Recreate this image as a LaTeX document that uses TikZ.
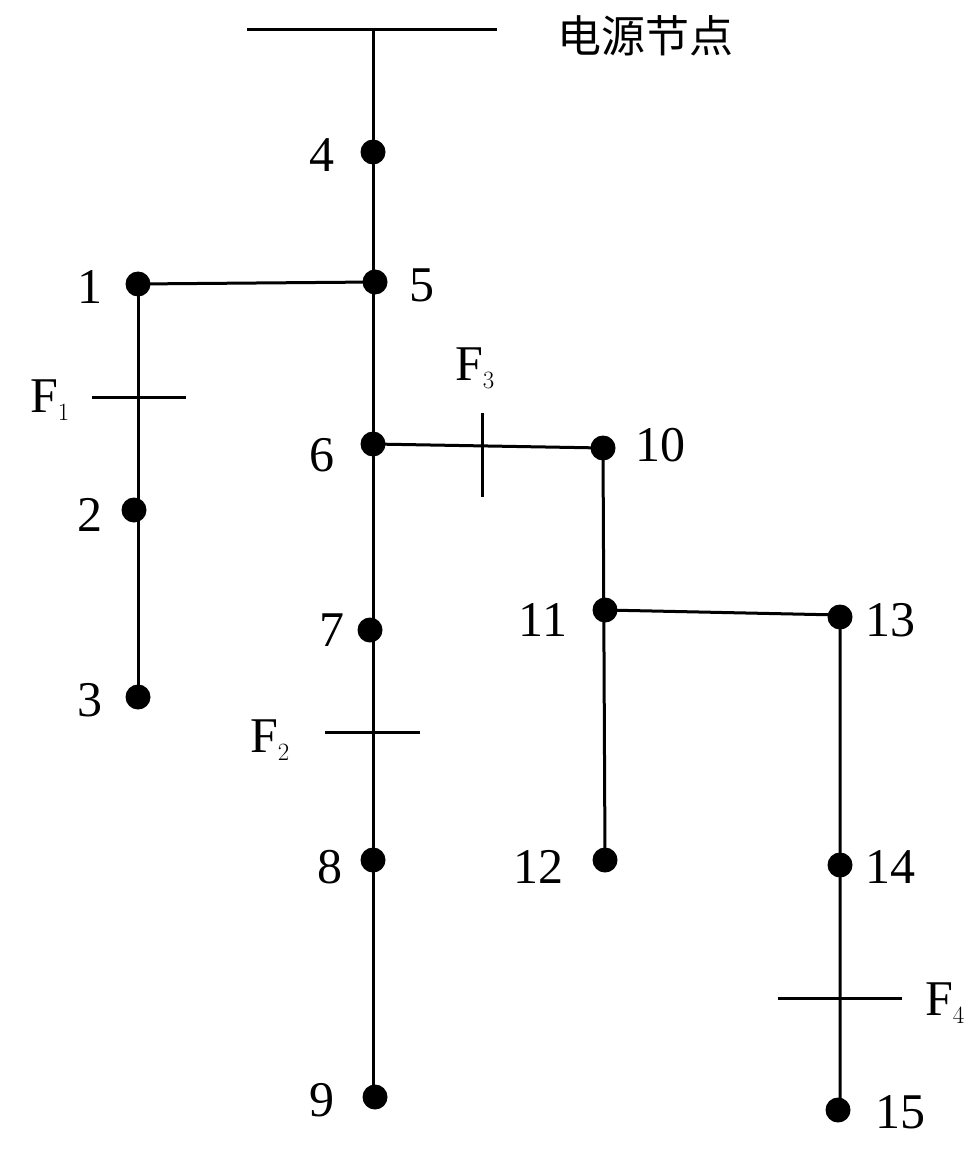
\documentclass[tikz,border=0pt]{standalone}
\usepackage{fontspec}
\setmainfont{Liberation Serif}
\newfontfamily\cjk{Noto Sans CJK SC}
\begin{document}
\begin{tikzpicture}[x=1pt,y=-1pt,line width=3pt,
  dot/.style={circle,fill=black,inner sep=0pt,minimum size=25pt},
  lbl/.style={font=\fontsize{50}{50}\selectfont,inner sep=0pt}]
\useasboundingbox (0,0) rectangle (978,1155);
\coordinate (b1) at (247,30); \coordinate (b2) at (497,30); \coordinate (top) at (373,30);
\node[lbl,font=\cjk\fontsize{44}{44}\selectfont] (src) at (645,36) {电源节点};
\node[dot] (n4) at (373,152) {}; \node[lbl] at (322,155) {4};
\node[dot] (n5) at (375,282) {}; \node[lbl] at (422,285) {5};
\node[dot] (n1) at (138,284) {}; \node[lbl] at (90,287) {1};
\node[dot] (n2) at (134,510) {}; \node[lbl] at (90,515) {2};
\node[dot] (n3) at (138,697) {}; \node[lbl] at (90,700) {3};
\node[dot] (n6) at (373,444) {}; \node[lbl] at (322,455) {6};
\node[dot] (n10) at (603,448) {}; \node[lbl] at (660,445) {10};
\node[dot] (n11) at (605,610) {}; \node[lbl] at (543,620) {11};
\node[dot] (n13) at (840,617) {}; \node[lbl] at (890,620) {13};
\node[dot] (n12) at (605,860) {}; \node[lbl] at (538,867) {12};
\node[dot] (n7) at (370,630) {}; \node[lbl] at (332,630) {7};
\node[dot] (n8) at (373,860) {}; \node[lbl] at (330,867) {8};
\node[dot] (n9) at (375,1097) {}; \node[lbl] at (322,1100) {9};
\node[dot] (n14) at (840,865) {}; \node[lbl] at (890,867) {14};
\node[dot] (n15) at (838,1110) {}; \node[lbl] at (900,1112) {15};
\draw (b1)--(b2);
\draw (top)--(373,1097);
\draw (n1.center)--(n5.center);
\draw (138,284)--(138,697);
\draw (n6.center)--(603,448)--(605,860);
\draw (n11.center)--(840,615)--(840,1110);
% fault ticks
\draw (92,397)--(186,397); \node[lbl] at (50,400) {F$_1$};
\draw (482,413)--(482,497); \node[lbl] at (475,368) {F$_3$};
\draw (325,732)--(420,732); \node[lbl] at (270,740) {F$_2$};
\draw (778,998)--(902,998); \node[lbl] at (945,1003) {F$_4$};
\end{tikzpicture}
\end{document}
